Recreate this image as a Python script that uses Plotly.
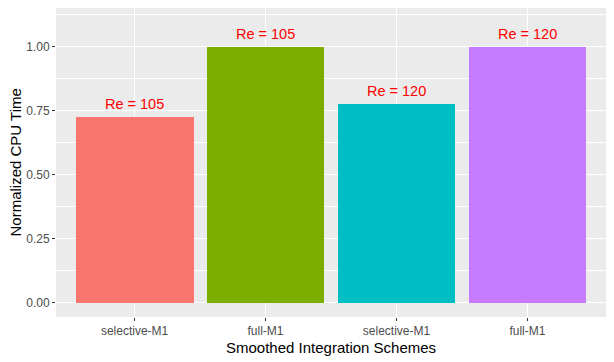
import plotly.graph_objects as go

schemes = ["selective-M1", "full-M1", "selective-M1", "full-M1"]
cpu_time = [0.726, 1.0, 0.778, 1.0]
labels = ["Re = 105", "Re = 105", "Re = 120", "Re = 120"]
colors = ["#F8766D", "#7CAE00", "#00BFC4", "#C77CFF"]
y_ticks = [0.0, 0.25, 0.5, 0.75, 1.0]
y_ticktext = ["0.00", "0.25", "0.50", "0.75", "1.00"]

xpos = list(range(len(schemes)))
FONT = "Liberation Sans, Arial, sans-serif"

fig = go.Figure()
fig.add_trace(go.Bar(
    x=xpos, y=cpu_time, width=0.9,
    marker=dict(color=colors, line=dict(width=0)),
    showlegend=False, hoverinfo="skip",
))

for xi, yi, lab in zip(xpos, cpu_time, labels):
    fig.add_annotation(x=xi, y=yi, text=lab, showarrow=False,
                       yanchor="bottom", yshift=3,
                       font=dict(family=FONT, size=14.5, color="#FF0000"))

# axis titles
fig.add_annotation(text="Smoothed Integration Schemes", xref="paper", yref="paper",
                   x=0.5, y=0, xanchor="center", yanchor="middle", yshift=-30,
                   showarrow=False, font=dict(family=FONT, size=15, color="black"))
fig.add_annotation(text="Normalized CPU Time", xref="paper", yref="paper",
                   x=0, y=0.5, xanchor="center", yanchor="middle", xshift=-41,
                   textangle=-90, showarrow=False,
                   font=dict(family=FONT, size=15, color="black"))

fig.update_layout(
    width=606, height=354,
    margin=dict(l=48, r=8, t=0, b=45),
    paper_bgcolor="white",
    plot_bgcolor="#EBEBEB",
    font=dict(family=FONT),
    bargap=0,
)
fig.update_xaxes(
    range=[-0.6, 3.6], tickvals=xpos, ticktext=schemes,
    automargin=False,
    showgrid=True, gridcolor="white", gridwidth=1.1,
    zeroline=False, showline=False,
    ticks="outside", ticklen=3, tickcolor="#333333", tickwidth=1,
    tickfont=dict(size=12, color="#4D4D4D"),
)
fig.update_yaxes(
    range=[-0.0547, 1.152], tickvals=y_ticks, ticktext=y_ticktext,
    automargin=False,
    showgrid=True, gridcolor="white", gridwidth=1.1,
    zeroline=False, showline=False,
    ticks="outside", ticklen=3, tickcolor="#333333", tickwidth=1,
    tickfont=dict(size=12, color="#4D4D4D"),
    minor=dict(tickvals=[0.125, 0.375, 0.625, 0.875, 1.125], showgrid=True,
               gridcolor="white", gridwidth=0.5, ticks=""),
)

fig.write_html("out.html")
